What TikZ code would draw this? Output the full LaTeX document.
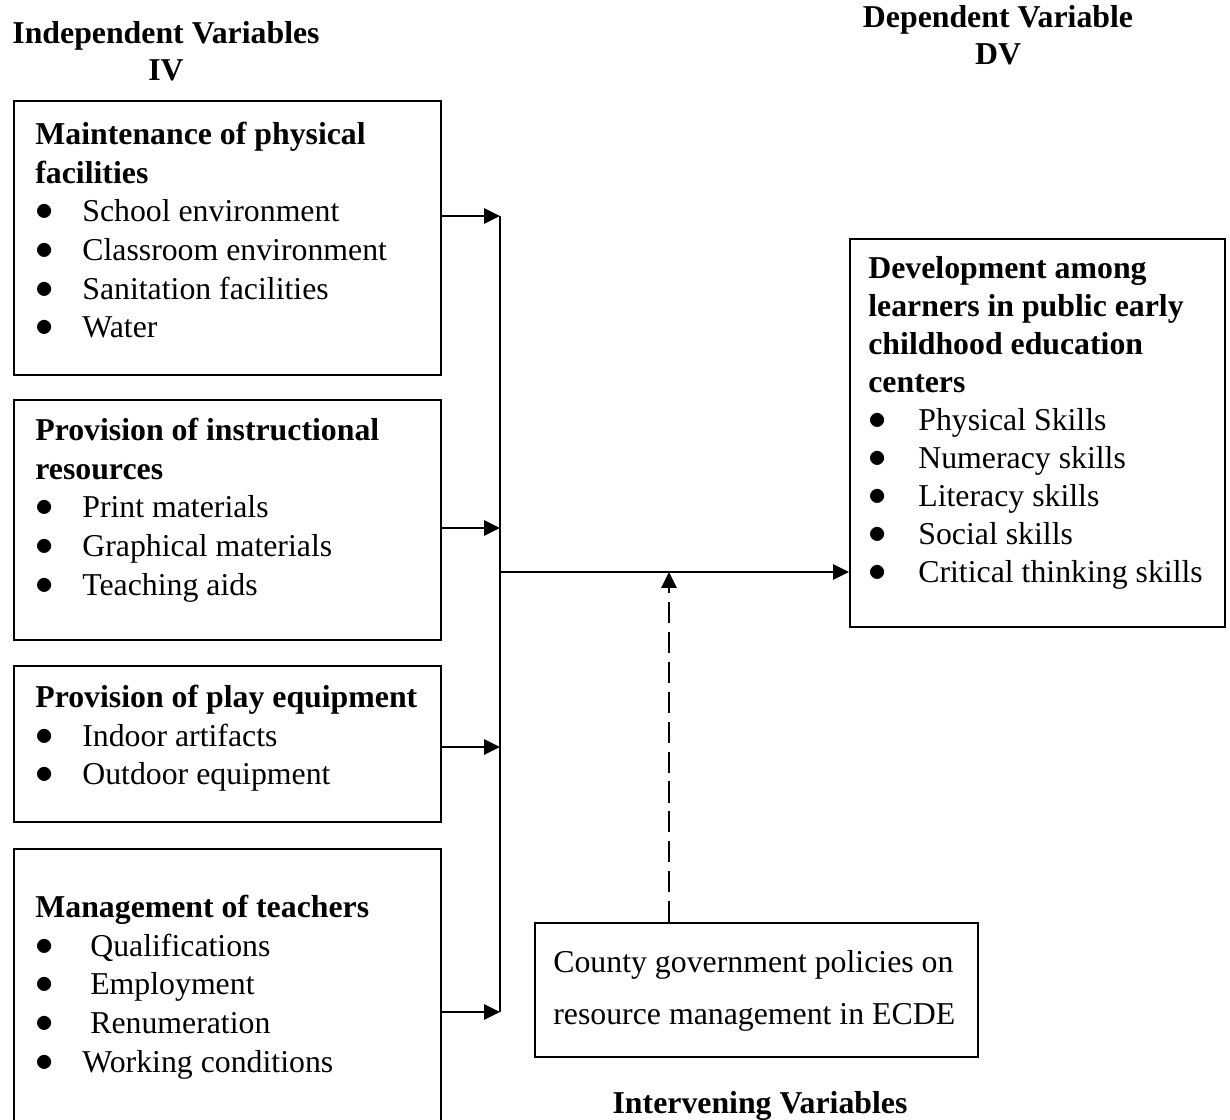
\documentclass[tikz,border=0pt]{standalone}
\usepackage{fontspec}
\setmainfont{Liberation Serif}
\usetikzlibrary{arrows.meta,positioning}

\newcommand{\bitem}[2][0.94cm]{\makebox[#1][l]{\hspace{0.01cm}\raisebox{0.03em}{\scalebox{1.2}{$\bullet$}}}#2}

\begin{document}
\begin{tikzpicture}[x=0.02cm,y=-0.02cm,
    >={Triangle[length=9pt,width=8.5pt]},
    every node/.style={font=\fontsize{18.1}{22}\selectfont},
    box/.style={draw,line width=0.9pt,anchor=north west,inner sep=0pt},
    txt/.style={anchor=north west,align=left,inner sep=0pt},
    head/.style={align=center,inner sep=0pt,anchor=north,
      font=\fontsize{18.1}{21}\selectfont\bfseries},
    link/.style={line width=1.4pt}]
  \clip (0,0) rectangle (1230,1119);

  % headings
  \node[head] (iv) at (166,17) {\strut Independent Variables\\IV};
  \node[head] (dv) at (998,1) {\strut Dependent Variable\\DV};
  \node[head,anchor=base] (inv) at (760,1113) {Intervening Variables};

  % independent variables
  \node[box,minimum width=8.54cm,minimum height=5.48cm] (mpf) at (13,100) {};
  \node[txt] (mpft) at (35,117) {\strut\textbf{Maintenance of physical}\\
    \textbf{facilities}\\
    \bitem{School environment}\\
    \bitem{Classroom environment}\\
    \bitem{Sanitation facilities}\\
    \bitem{Water}};

  \node[box,minimum width=8.54cm,minimum height=4.8cm] (pir) at (13,399) {};
  \node[txt] (pirt) at (35,413) {\strut\textbf{Provision of instructional}\\
    \textbf{resources}\\
    \bitem{Print materials}\\
    \bitem{Graphical materials}\\
    \bitem{Teaching aids}};

  \node[box,minimum width=8.54cm,minimum height=3.12cm] (ppe) at (13,665) {};
  \node[txt] (ppet) at (35,680) {\strut\textbf{Provision of play equipment}\\
    \bitem{Indoor artifacts}\\
    \bitem{Outdoor equipment}};

  \node[box,minimum width=8.54cm,minimum height=5.8cm] (mot) at (13,848) {};
  \node[txt] (mott) at (35,890) {\strut\textbf{Management of teachers}\\
    \bitem{\ Qualifications}\\
    \bitem{\ Employment}\\
    \bitem{\ Renumeration}\\
    \bitem{Working conditions}};

  % dependent variable
  \node[box,minimum width=7.5cm,minimum height=7.76cm] (dev) at (849,238) {};
  \node[txt,font=\fontsize{18.1}{21.6}\selectfont] (devt) at (868,252)
    {\strut\textbf{Development among}\\
    \textbf{learners in public early}\\
    \textbf{childhood education}\\
    \textbf{centers}\\
    \bitem[1cm]{Physical Skills}\\
    \bitem[1cm]{Numeracy skills}\\
    \bitem[1cm]{Literacy skills}\\
    \bitem[1cm]{Social skills}\\
    \bitem[1cm]{Critical thinking skills}};

  % intervening variable
  \node[box,minimum width=8.86cm,minimum height=2.68cm] (cgp) at (534,922) {};
  \node[txt,font=\fontsize{18.1}{29.5}\selectfont] (cgpt) at (553,936)
    {\strut County government policies on\\resource management in ECDE};

  % bus
  \coordinate (j1) at (500,216);
  \coordinate (j2) at (500,528);
  \coordinate (j3) at (500,747);
  \coordinate (j4) at (500,1012);
  \coordinate (jm) at (500,572);
  \coordinate (jd) at (669,572);

  \draw[link,->] (mpf.east |- j1) -- (j1);
  \draw[link,->] (pir.east |- j2) -- (j2);
  \draw[link,->] (ppe.east |- j3) -- (j3);
  \draw[link,->] (mot.east |- j4) -- (j4);
  \draw[link] (j1) -- (j4);
  \draw[link,->] (jm) -- (dev.west |- jm);
  \draw[link,->,dash pattern=on 12pt off 5pt] (cgp.north -| jd) -- (jd);
\end{tikzpicture}
\end{document}
